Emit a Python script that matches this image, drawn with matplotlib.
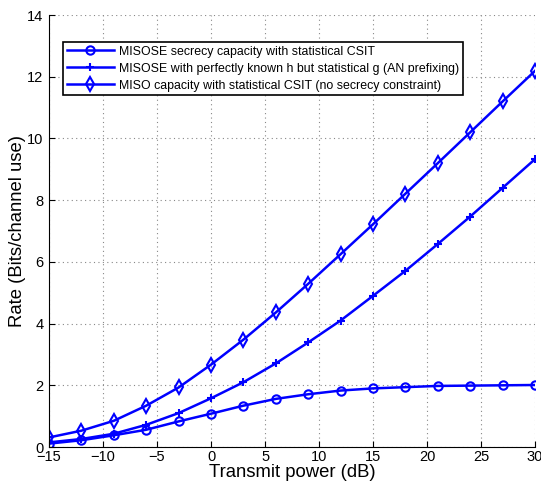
import matplotlib
matplotlib.use("Agg")
import matplotlib.pyplot as plt

x = [-15, -12, -9, -6, -3, 0, 3, 6, 9, 12, 15, 18, 21, 24, 27, 30]
secrecy = [0.11, 0.22, 0.38, 0.56, 0.83, 1.08, 1.34, 1.56, 1.71, 1.83, 1.90, 1.94, 1.98, 1.99, 2.00, 2.01]
an_pref = [0.15, 0.26, 0.43, 0.72, 1.10, 1.58, 2.10, 2.71, 3.39, 4.10, 4.90, 5.71, 6.58, 7.47, 8.40, 9.33]
miso = [0.31, 0.53, 0.85, 1.34, 1.93, 2.67, 3.48, 4.36, 5.29, 6.25, 7.22, 8.21, 9.20, 10.20, 11.20, 12.19]
labels = ["MISOSE secrecy capacity with statistical CSIT",
          "MISOSE with perfectly known h but statistical g (AN prefixing)",
          "MISO capacity with statistical CSIT (no secrecy constraint)"]
xticks = [-15, -10, -5, 0, 5, 10, 15, 20, 25, 30]
yticks = [0, 2, 4, 6, 8, 10, 12, 14]

plt.rcParams['font.family'] = ['Liberation Sans', 'DejaVu Sans']
fig = plt.figure(figsize=(5.41, 4.84), dpi=100)
ax = fig.add_axes([0.0906, 0.0764, 0.8984, 0.8926])

blue = '#0000ff'
ax.plot(x, secrecy, color=blue, lw=1.8, marker='o', ms=6, mfc='none', mew=1.5, label=labels[0])
ax.plot(x, an_pref, color=blue, lw=1.8, marker='+', ms=6, mew=1.5, label=labels[1])
ax.plot(x, miso, color=blue, lw=1.8, marker='d', ms=7, mfc='none', mew=1.5, label=labels[2])

ax.set_xlim(-15, 30)
ax.set_ylim(0, 14)
ax.set_xticks(xticks)
ax.set_yticks(yticks)
ax.set_xticklabels([str(t).replace('-', '\u2212') for t in xticks])
ax.tick_params(direction='in', labelsize=10.5, length=4, top=False, right=False)
ax.tick_params(axis='x', pad=2)
ax.tick_params(axis='y', pad=4)
ax.spines['top'].set_visible(False)
ax.spines['right'].set_visible(False)
ax.grid(True, linestyle=(0, (1, 3)), color='#888888', lw=0.8)
ax.set_xlabel('Transmit power (dB)', fontsize=13.3, labelpad=0)
ax.set_ylabel('Rate (Bits/channel use)', fontsize=13.3, labelpad=1)

leg = ax.legend(loc='upper left', bbox_to_anchor=(0.029, 0.9375), fontsize=8.9,
                fancybox=False, framealpha=1, edgecolor='black', handlelength=3.8,
                borderpad=0.3, labelspacing=0.4, handletextpad=0.45, borderaxespad=0)
leg.get_frame().set_linewidth(1.2)

fig.savefig('out.png', dpi=100)
